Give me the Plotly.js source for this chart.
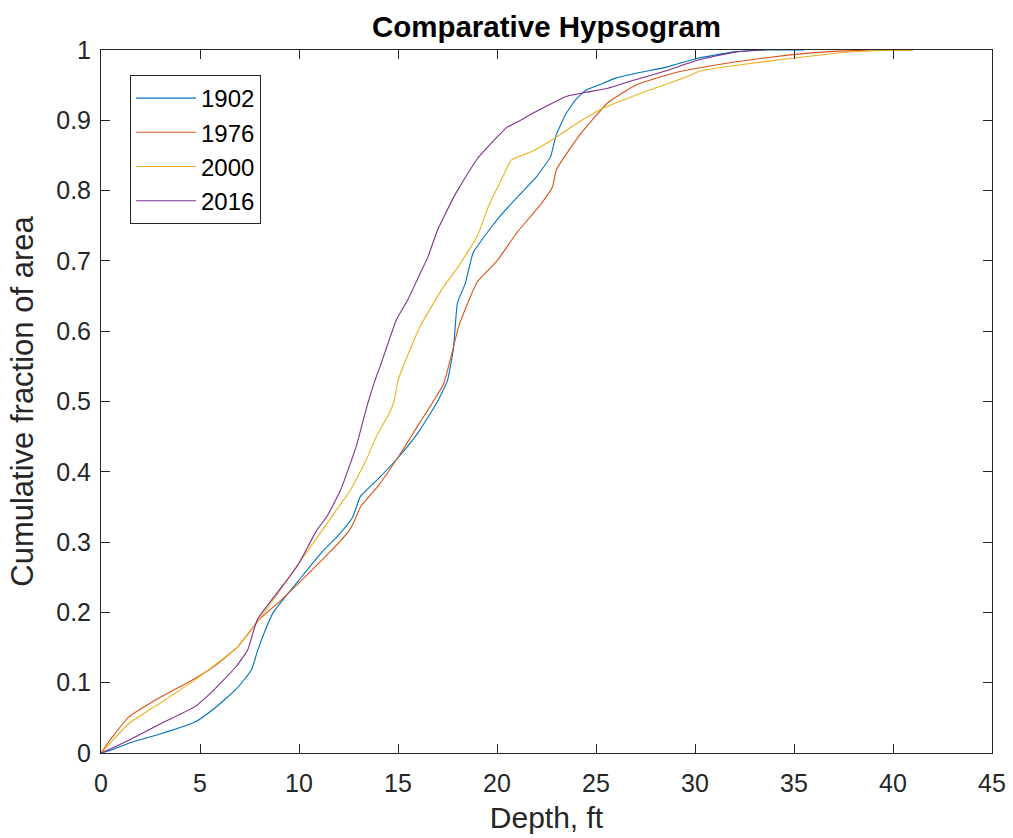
<!DOCTYPE html>
<html>
<head>
<meta charset="utf-8">
<script src="https://cdn.plot.ly/plotly-3.0.1.min.js"></script>
<style>html,body{margin:0;padding:0;background:#fff;}#chart{width:1013px;height:838px;}</style>
</head>
<body>
<div id="chart"></div>
<script>
// Series names
const seriesNames = ["1902", "1976", "2000", "2016"];

// 1902
const depth1902 = [0, 0.5, 1.4, 3.1, 4.75, 5.75, 6.8, 7.6, 7.9, 8.3, 8.7, 9.3, 10, 11.2, 12, 12.7, 13.1, 14, 15, 16, 17, 17.5, 17.8, 18, 18.4, 18.8, 19.5, 20.2, 21, 22, 22.7, 23, 23.5, 24, 24.5, 25.2, 26, 27.2, 28.6, 30.1, 31.9, 33.6, 35.5];
const frac1902  = [0, 0.004, 0.014, 0.028, 0.044, 0.064, 0.09, 0.118, 0.145, 0.175, 0.2, 0.222, 0.246, 0.287, 0.31, 0.335, 0.365, 0.39, 0.42, 0.455, 0.5, 0.53, 0.575, 0.64, 0.668, 0.712, 0.74, 0.765, 0.79, 0.82, 0.848, 0.88, 0.91, 0.93, 0.943, 0.951, 0.96, 0.968, 0.976, 0.988, 0.997, 1.0, 1.0];

// 1976
const depth1976 = [0, 0.5, 1.4, 2.8, 4.75, 5.7, 6.9, 8, 9, 10, 11, 11.7, 12.5, 12.8, 13.1, 14, 15.1, 16.1, 17.3, 18.1, 19, 20, 21, 22.2, 22.8, 23, 24.2, 25.6, 27, 28.9, 30.1, 32, 34.8, 37, 39, 41];
const frac1976  = [0, 0.02, 0.051, 0.076, 0.106, 0.123, 0.151, 0.19, 0.215, 0.242, 0.27, 0.29, 0.315, 0.33, 0.35, 0.38, 0.425, 0.47, 0.525, 0.61, 0.67, 0.70, 0.74, 0.78, 0.805, 0.83, 0.88, 0.925, 0.95, 0.967, 0.974, 0.983, 0.993, 0.998, 1.0, 1.0];

// 2000
const depth2000 = [0, 0.5, 1.4, 3.1, 4.75, 6.9, 8, 9, 10, 11, 12, 12.6, 13.4, 13.9, 14.5, 14.8, 15, 16.1, 17.3, 18, 19, 19.6, 20.3, 20.7, 21.7, 23, 24, 25.2, 27.7, 29.6, 30.25, 32, 34.8, 37, 39, 41];
const frac2000  = [0, 0.015, 0.042, 0.073, 0.104, 0.151, 0.19, 0.23, 0.27, 0.31, 0.35, 0.374, 0.417, 0.45, 0.48, 0.50, 0.53, 0.606, 0.663, 0.69, 0.735, 0.78, 0.82, 0.843, 0.855, 0.876, 0.895, 0.915, 0.943, 0.962, 0.97, 0.978, 0.988, 0.995, 0.999, 1.0];

// 2016
const depth2016 = [0, 0.5, 1.4, 3.1, 4.75, 5.6, 6.8, 7.4, 7.9, 9.5, 10, 10.9, 11.4, 12.1, 12.9, 13.4, 13.9, 14.1, 14.9, 15.5, 16, 16.5, 17, 17.8, 18, 19, 20, 20.5, 21.2, 21.8, 23.5, 24.5, 25.5, 26.9, 28.5, 30.2, 32, 33.5];
const frac2016  = [0, 0.006, 0.018, 0.043, 0.066, 0.087, 0.122, 0.146, 0.19, 0.25, 0.27, 0.317, 0.336, 0.374, 0.437, 0.49, 0.535, 0.55, 0.615, 0.645, 0.675, 0.705, 0.744, 0.79, 0.80, 0.845, 0.876, 0.89, 0.90, 0.91, 0.934, 0.94, 0.945, 0.957, 0.97, 0.986, 0.997, 1.0];

const xTicks = [0, 5, 10, 15, 20, 25, 30, 35, 40, 45];
const yTicks = [0, 0.1, 0.2, 0.3, 0.4, 0.5, 0.6, 0.7, 0.8, 0.9, 1];
const yTickLabels = ["0", "0.1", "0.2", "0.3", "0.4", "0.5", "0.6", "0.7", "0.8", "0.9", "1"];

const colors = ["#0072BD", "#D95319", "#EDB120", "#7E2F8E"];
const xs = [depth1902, depth1976, depth2000, depth2016];
const ys = [frac1902, frac1976, frac2000, frac2016];

const traces = seriesNames.map((n, i) => ({
  x: xs[i], y: ys[i], name: n, type: "scatter", mode: "lines",
  line: {color: colors[i], width: 1.1, shape: "spline", smoothing: 0.4}
}));

const fontFam = "Liberation Sans, Arial, sans-serif";
const axisCommon = {
  showline: true, linecolor: "#262626", linewidth: 1, mirror: "ticks",
  ticks: "inside", ticklen: 9, tickcolor: "#262626", tickwidth: 1,
  showgrid: false, zeroline: false, automargin: false,
  tickfont: {family: fontFam, size: 25, color: "#262626"}
};

const layout = {
  width: 1013, height: 838,
  margin: {l: 101, r: 21, t: 50, b: 85},
  paper_bgcolor: "#ffffff", plot_bgcolor: "#ffffff",
  title: {text: "<b>Comparative Hypsogram</b>", x: 0.5, xref: "paper", xanchor: "center",
          y: 1 - 27 / 838, yref: "container", yanchor: "middle",
          font: {family: fontFam, size: 29.5, color: "#000"}},
  xaxis: Object.assign({}, axisCommon, {
    range: [0, 45], tickvals: xTicks, ticktext: xTicks.map(String),
    ticklabelstandoff: 8,
    title: {text: "Depth, ft", font: {family: fontFam, size: 30, color: "#262626"}, standoff: 10}
  }),
  yaxis: Object.assign({}, axisCommon, {
    range: [0, 1], tickvals: yTicks, ticktext: yTickLabels,
    ticklabelstandoff: 4,
    title: {text: "Cumulative fraction of area", font: {family: fontFam, size: 31, color: "#262626"}, standoff: 13}
  }),
  showlegend: true,
  legend: {
    x: (130 - 101) / 891, y: (753 - 75) / 703, xanchor: "left", yanchor: "top",
    bgcolor: "#ffffff", bordercolor: "#262626", borderwidth: 1,
    font: {family: fontFam, size: 24, color: "#000"},
    itemwidth: 60, tracegroupgap: 0
  }
};

Plotly.newPlot("chart", traces, layout, {staticPlot: true, displayModeBar: false});
</script>
</body>
</html>
